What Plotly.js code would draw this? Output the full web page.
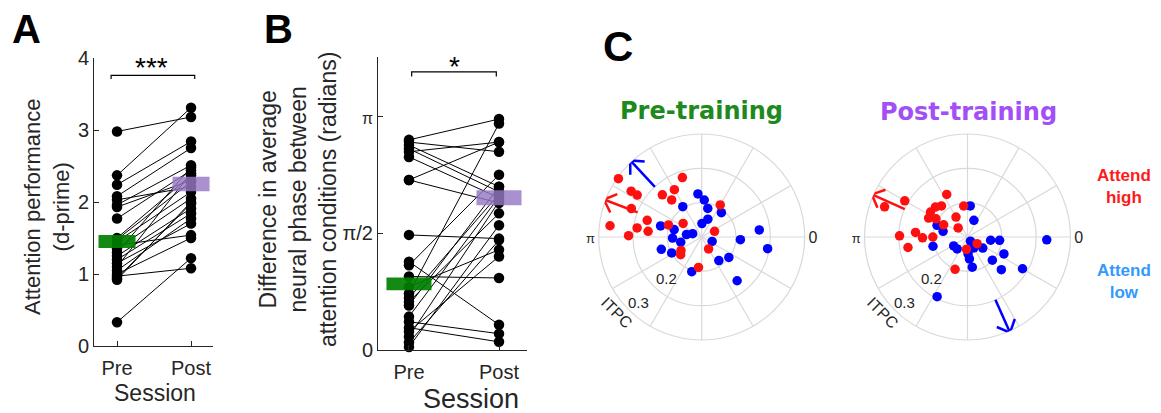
<!DOCTYPE html>
<html>
<head>
<meta charset="utf-8">
<script src="https://cdn.plot.ly/plotly-3.0.1.min.js"></script>
<style>html,body{margin:0;padding:0;background:#fff;}#chart{width:1161px;height:413px;}</style>
</head>
<body>
<div id="chart"></div>
<script>
// ---------------- data ----------------
const sessions = ['Pre', 'Post'];

// Panel A: attention performance (d-prime), paired per subject
const dprimePre  = [2.98, 2.37, 2.24, 2.08, 2.03, 1.96, 1.93, 1.77, 1.50, 1.45, 1.40, 1.35, 1.30, 1.25, 1.20, 1.15, 1.10, 1.05, 1.00, 0.97, 0.94, 0.92, 0.33, 1.48];
const dprimePost = [3.18, 3.31, 2.84, 2.75, 2.21, 2.51, 2.30, 2.44, 2.37, 2.14, 1.54, 2.05, 2.48, 1.91, 1.84, 1.70, 2.40, 1.77, 1.50, 1.08, 1.98, 2.00, 1.22, 2.28];
const dprimeMean = [1.45, 2.25];
const dprimeErr  = [0.09, 0.10];
const dprimeSig  = 3.76;

// Panel B: phase difference (radians), paired per subject
const phasePre  = [2.83, 2.80, 2.76, 2.71, 2.67, 2.60, 2.29, 2.29, 1.55, 1.19, 1.14, 0.99, 0.76, 0.70, 0.65, 0.45, 0.38, 0.30, 0.25, 0.18, 0.10, 0.04, 0.85, 0.60];
const phasePost = [3.11, 2.67, 2.20, 2.13, 2.80, 2.05, 2.80, 1.98, 1.50, 0.34, 2.36, 0.97, 3.05, 2.10, 1.84, 2.06, 0.22, 0.11, 1.26, 2.00, 1.48, 1.68, 1.35, 2.20];
const phaseMean = [0.89, 2.05];
const phaseErr  = [0.085, 0.10];
const phaseSig  = 3.745;
const phaseTickVals = [0, Math.PI / 2, Math.PI];
const phaseTickText = ['0', 'π/2', '<span style="font-size:16px">π</span>'];

// Panel C: ITPC polar (theta in degrees, r = ITPC)
const preHighTheta = [145, 147, 147, 158, 173, 179, 172, 163, 174, 133, 120, 129, 108, 160, 144, 60, 24, -60, -147, -140, -96];
const preHighR     = [0.296, 0.245, 0.224, 0.221, 0.269, 0.213, 0.190, 0.166, 0.157, 0.168, 0.159, 0.139, 0.182, 0.103, 0.067, 0.108, 0.041, 0.040, 0.072, 0.080, 0.089];
const preLowTheta  = [95, 86, 78, 51, 122, 71, 89, 165, 165, 182, 194, 171, 160, 197, 208, 254, -23, -54, -37, -4, 7, -10, -51];
const preLowR      = [0.126, 0.108, 0.085, 0.091, 0.104, 0.055, 0.039, 0.124, 0.083, 0.085, 0.063, 0.045, 0.028, 0.123, 0.099, 0.105, 0.033, 0.085, 0.099, 0.113, 0.169, 0.195, 0.164];
const postHighTheta = [149, 150, 160, 116, 137, 130, 146, 154, 150, 153, 97, 120, 136, 179, 175, 181, 180, 190, 265, 249, -35];
const postHighR     = [0.325, 0.211, 0.257, 0.138, 0.128, 0.118, 0.130, 0.126, 0.106, 0.078, 0.091, 0.067, 0.038, 0.198, 0.152, 0.131, 0.101, 0.176, 0.036, 0.101, 0.034];
const postLowTheta  = [85, 69, 159, 167, 195, 213, 229, -55, -60, -85, -81, -36, -8, -6, -25, -43, -44, -30, -2, -117, -88];
const postLowR      = [0.091, 0.052, 0.095, 0.073, 0.104, 0.048, 0.046, 0.015, 0.037, 0.064, 0.089, 0.055, 0.068, 0.094, 0.117, 0.099, 0.137, 0.185, 0.231, 0.195, 0.049];
// mean phase direction arrows: [pre high, pre low, post high, post low]
const arrowTheta = [159, 133, 156, -66];
const arrowFrom  = 0.2;
const arrowTo    = 0.305;
const polarTickVals = [0, 30, 60, 90, 120, 150, 180, 210, 240, 270, 300, 330];
const polarTickText = ['0', '', '', '', '', '', '<span style="font-size:13px">π</span>', '', '', '', '', ''];
const radialGrid = [0.1, 0.2, 0.3];

// ---------------- helpers ----------------
const RED = '#ff1010', BLUE = '#0000ff', AX = '#262626', GRID = '#d9d9d9';
const W = 1161, H = 413;
const px = v => v / W, py = v => 1 - v / H;

function pairLines(pre, post) {
  const x = [], y = [];
  pre.forEach((v, i) => { x.push(0, 1, null); y.push(v, post[i], null); });
  return {x, y};
}
function rect(i, m, h) {
  return {x: [i - 0.25, i + 0.25, i + 0.25, i - 0.25, i - 0.25], y: [m - h, m - h, m + h, m + h, m - h]};
}
function bracket(y, drop, x0, x1) {
  return {x: [x0, x0, x1, x1], y: [y - drop, y, y, y - drop]};
}
function arrowPath(thDeg, r0, r1, len, ang) {
  const t = thDeg * Math.PI / 180;
  const tx = r1 * Math.cos(t), ty = r1 * Math.sin(t);
  const r = [r0, r1, null], th = [thDeg, thDeg, null];
  const pts = [-1, 1].map(s => {
    const a = t + Math.PI + s * ang;
    const hx = tx + len * Math.cos(a), hy = ty + len * Math.sin(a);
    return [Math.hypot(hx, hy), Math.atan2(hy, hx) * 180 / Math.PI];
  });
  r.push(pts[0][0], r1, pts[1][0]);
  th.push(pts[0][1], thDeg, pts[1][1]);
  return {r, theta: th};
}

const traces = [];
// Panel A
const la = pairLines(dprimePre, dprimePost);
traces.push({type: 'scatter', mode: 'lines', x: la.x, y: la.y, xaxis: 'x', yaxis: 'y', line: {color: '#000', width: 1}, hoverinfo: 'skip'});
traces.push({type: 'scatter', mode: 'markers', x: dprimePre.map(() => 0).concat(dprimePost.map(() => 1)), y: dprimePre.concat(dprimePost), xaxis: 'x', yaxis: 'y', marker: {color: '#000', size: 10.5}});
[0, 1].forEach(i => {
  const rr = rect(i, dprimeMean[i], dprimeErr[i]);
  traces.push({type: 'scatter', mode: 'lines', x: rr.x, y: rr.y, fill: 'toself', xaxis: 'x', yaxis: 'y',
    fillcolor: i === 0 ? 'rgba(0,128,0,0.92)' : 'rgba(150,120,195,0.82)', line: {width: 0}, hoverinfo: 'skip'});
});
const ba = bracket(dprimeSig, 0.05, -0.08, 1.05);
traces.push({type: 'scatter', mode: 'lines', x: ba.x, y: ba.y, xaxis: 'x', yaxis: 'y', line: {color: '#000', width: 1.2}, cliponaxis: false});

// Panel B
const lb = pairLines(phasePre, phasePost);
traces.push({type: 'scatter', mode: 'lines', x: lb.x, y: lb.y, xaxis: 'x2', yaxis: 'y2', line: {color: '#000', width: 1}, hoverinfo: 'skip'});
traces.push({type: 'scatter', mode: 'markers', x: phasePre.map(() => 0).concat(phasePost.map(() => 1)), y: phasePre.concat(phasePost), xaxis: 'x2', yaxis: 'y2', marker: {color: '#000', size: 10.5}, cliponaxis: false});
[0, 1].forEach(i => {
  const rr = rect(i, phaseMean[i], phaseErr[i]);
  traces.push({type: 'scatter', mode: 'lines', x: rr.x, y: rr.y, fill: 'toself', xaxis: 'x2', yaxis: 'y2',
    fillcolor: i === 0 ? 'rgba(0,128,0,0.92)' : 'rgba(150,120,195,0.82)', line: {width: 0}, hoverinfo: 'skip'});
});
const bb = bracket(phaseSig, 0.06, 0.03, 0.97);
traces.push({type: 'scatter', mode: 'lines', x: bb.x, y: bb.y, xaxis: 'x2', yaxis: 'y2', line: {color: '#000', width: 1.2}, cliponaxis: false});

// Panel C
function polarSet(sub, lowT, lowR, highT, highR, aHigh, aLow) {
  traces.push({type: 'scatterpolar', subplot: sub, mode: 'markers', theta: lowT, r: lowR, marker: {color: BLUE, size: 9.5}, cliponaxis: false});
  traces.push({type: 'scatterpolar', subplot: sub, mode: 'markers', theta: highT, r: highR, marker: {color: RED, size: 9.5}, cliponaxis: false});
  const ah = arrowPath(aHigh, arrowFrom, arrowTo, 0.042, 0.75);
  const al = arrowPath(aLow, arrowFrom, arrowTo, 0.042, 0.75);
  traces.push({type: 'scatterpolar', subplot: sub, mode: 'lines', theta: ah.theta, r: ah.r, line: {color: RED, width: 2.5}, cliponaxis: false});
  traces.push({type: 'scatterpolar', subplot: sub, mode: 'lines', theta: al.theta, r: al.r, line: {color: BLUE, width: 2.5}, cliponaxis: false});
}
polarSet('polar', preLowTheta, preLowR, preHighTheta, preHighR, arrowTheta[0], arrowTheta[1]);
polarSet('polar2', postLowTheta, postLowR, postHighTheta, postHighR, arrowTheta[2], arrowTheta[3]);

// ---------------- layout ----------------
const font = 'Liberation Sans, Arial, Helvetica, sans-serif';
function xax(l, r, lo, hi) {
  return {domain: [px(l), px(r)], range: [lo, hi], tickvals: [0, 1], ticktext: sessions, showline: true, linecolor: AX, linewidth: 1,
    ticks: 'inside', ticklen: 5, tickcolor: AX, showgrid: false, zeroline: false, tickfont: {size: 20, color: AX}, ticklabelstandoff: 4, fixedrange: true};
}
function yax(b, t, range, vals, text) {
  return {domain: [py(b), py(t)], range: range, tickvals: vals, ticktext: text, showline: true, linecolor: AX, linewidth: 1,
    ticks: 'inside', ticklen: 5, tickcolor: AX, showgrid: false, zeroline: false, tickfont: {size: 20, color: AX}, fixedrange: true};
}
function polarAx(l, r) {
  return {
    domain: {x: [px(l), px(r)], y: [py(340), py(134)]},
    bgcolor: '#fff',
    angularaxis: {rotation: 0, direction: 'counterclockwise', tickmode: 'array', tickvals: polarTickVals, ticktext: polarTickText,
      ticks: '', showline: true, linecolor: GRID, linewidth: 1.2, gridcolor: GRID, gridwidth: 1.2, tickfont: {size: 16, color: AX}, layer: 'below traces'},
    radialaxis: {range: [0, 0.3], tickvals: radialGrid, showticklabels: false, ticks: '', showline: false, gridcolor: GRID, gridwidth: 1.2, angle: 225, layer: 'below traces'}
  };
}
const polarCenters = [701.7, 967.5];
const ann = [];
function txt(t, x, y, size, opts) {
  ann.push(Object.assign({text: t, x: px(x), y: py(y), xref: 'paper', yref: 'paper', showarrow: false,
    xanchor: 'center', yanchor: 'middle', font: {size: size, color: AX, family: font}}, opts || {}));
}
txt('<b>A</b>', 26.5, 29, 40, {font: {size: 40, color: '#000', family: font}});
txt('<b>B</b>', 278.5, 29, 40, {font: {size: 40, color: '#000', family: font}});
txt('<b>C</b>', 617.5, 46, 42, {font: {size: 42, color: '#000', family: font}});
txt('Attention performance<br>(d-prime)', 47, 207, 22, {textangle: -90});
txt('Difference in average<br>neural phase between<br>attention conditions (radians)', 298, 200, 23, {textangle: -90});
txt('Session', 155, 393, 23);
txt('Session', 471, 399, 27);
txt('***', 151, 67, 28, {font: {size: 28, color: '#000', family: font}});
txt('*', 454.5, 66, 28, {font: {size: 28, color: '#000', family: font}});
txt('<b>Pre-training</b>', 701, 111, 24, {font: {size: 24, color: '#1e8a1e', family: 'DejaVu Sans, sans-serif'}});
txt('<b>Post-training</b>', 968, 112, 24, {font: {size: 24, color: '#a24ff5', family: 'DejaVu Sans, sans-serif'}});
txt('<b>Attend<br>high</b>', 1124, 186, 17, {font: {size: 17, color: '#ff1a1a', family: font}});
txt('<b>Attend<br>low</b>', 1124, 281, 17, {font: {size: 17, color: '#3399ff', family: font}});
polarCenters.forEach(cx => {
  txt('0.2', cx - 35.7, 278.7, 15);
  txt('0.3', cx - 63, 302.5, 15);
  txt('ITPC', cx - 85, 312, 16, {textangle: 45});
});

const layout = {
  width: W, height: H, margin: {l: 0, r: 0, t: 0, b: 0}, paper_bgcolor: '#fff', plot_bgcolor: 'rgba(0,0,0,0)',
  showlegend: false, font: {family: font, color: AX},
  xaxis: Object.assign(xax(94, 213, -0.311, 1.297), {anchor: 'y'}),
  yaxis: Object.assign(yax(346, 58, [0, 4], [0, 1, 2, 3, 4], ['0', '1', '2', '3', '4']), {anchor: 'x'}),
  xaxis2: Object.assign(xax(378, 527, -0.344, 1.311), {anchor: 'y2'}),
  yaxis2: Object.assign(yax(350, 56.7, [0, 3.95], phaseTickVals, phaseTickText), {anchor: 'x2'}),
  polar: polarAx(polarCenters[0] - 103, polarCenters[0] + 103),
  polar2: polarAx(polarCenters[1] - 103, polarCenters[1] + 103),
  annotations: ann
};
Plotly.newPlot('chart', traces, layout, {staticPlot: true, displayModeBar: false});
</script>
</body>
</html>
